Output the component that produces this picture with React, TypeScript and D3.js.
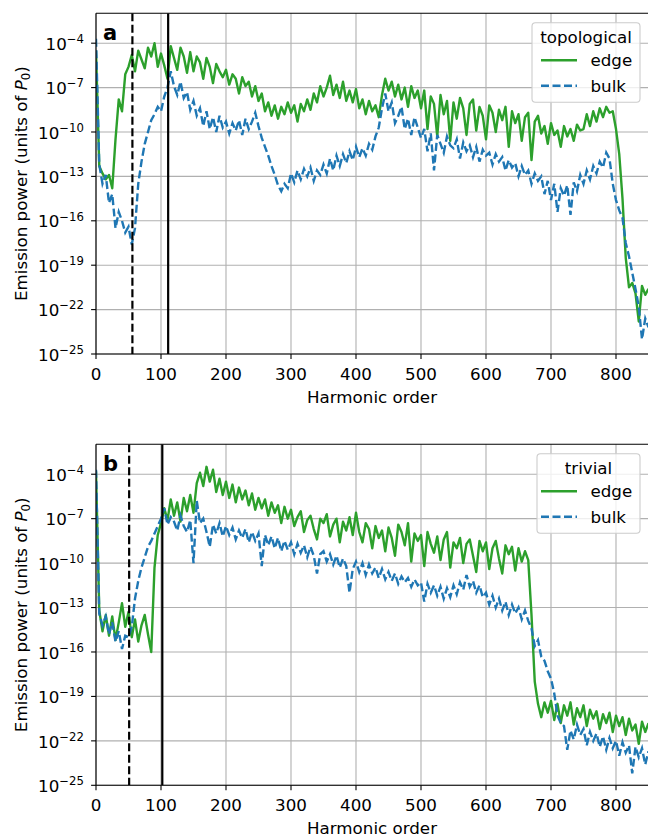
import React from "react";
import * as d3 from "d3";

// Harmonic orders sampled every 5
const harmonics = d3.range(0, 851, 5);

// log10 of emission power (units of P0)
const topoEdge = [
  -4.5, -12.3, -12.8, -13.2, -12.9, -13.8, -10.5, -7.8, -8.6, -6.1,
  -5.6, -4.8, -5.9, -4.5, -5.1, -5.7, -4.3, -4.9, -4.0, -5.6,
  -4.7, -5.5, -6.4, -4.2, -5.0, -5.8, -4.3, -4.9, -6.0, -4.6,
  -5.9, -4.9, -5.3, -6.4, -5.0, -5.6, -6.7, -5.4, -5.9, -6.3,
  -5.8, -6.8, -6.1, -6.4, -7.4, -6.3, -6.9, -6.6, -7.6, -6.9,
  -7.9, -7.4, -8.6, -8.0, -8.9, -8.2, -9.1, -8.3, -8.8, -8.0,
  -8.7, -8.2, -9.3, -8.1, -8.6, -7.8, -8.5, -7.4, -8.0, -6.9,
  -7.6, -7.0, -6.2, -7.5, -6.8, -7.7, -6.6, -7.9, -7.2, -8.0,
  -7.1, -8.4, -7.8, -8.8, -7.9, -8.6, -8.2, -9.0, -7.5, -6.4,
  -7.2, -6.6, -7.6, -6.8, -7.8, -7.0, -8.3, -6.9, -7.7, -7.2,
  -8.4, -7.2, -9.8, -7.6, -8.1, -10.3, -7.5, -8.8, -7.9, -10.6,
  -8.0, -9.1, -7.7, -8.4, -10.2, -8.1, -7.8, -9.9, -8.3, -8.9,
  -10.5, -8.2, -8.7, -10.0, -8.5, -9.2, -8.3, -11.0, -8.6, -9.4,
  -8.8, -10.6, -9.0, -8.7, -11.9, -9.3, -8.9, -10.1, -9.6, -10.8,
  -9.4, -10.2, -9.9, -11.0, -9.6, -10.3, -9.8, -10.6, -9.5, -9.9,
  -9.8, -8.8, -9.6, -8.6, -9.3, -8.4, -9.0, -8.3, -8.7, -8.6,
  -9.8, -11.5, -14.5, -18.5, -20.5, -20.2, -20.9, -22.8, -20.4, -21.0,
  -20.6,
];

const topoBulk = [
  -3.7, -12.2, -13.5, -12.9, -14.8, -14.2, -16.5, -15.4, -16.0, -16.8,
  -16.4, -17.6, -16.5, -13.5, -12.0, -10.8, -10.0, -9.2, -8.8, -8.3,
  -8.6, -7.6, -7.0, -5.9, -6.9, -7.5, -6.6, -7.7, -7.3, -8.5,
  -7.9, -8.9, -8.4, -9.6, -8.6, -9.8, -9.0, -10.0, -8.9, -9.7,
  -9.3, -10.1, -9.4, -9.9, -9.2, -10.2, -9.1, -9.8, -9.3, -8.7,
  -9.6, -10.4, -11.0, -11.6, -12.3, -12.9, -13.6, -14.0, -13.5, -13.8,
  -12.8, -13.4, -12.6, -13.2, -12.5, -13.0, -12.4, -13.3, -12.6, -12.9,
  -12.2, -12.8, -11.8, -12.6, -11.6, -12.3, -11.5, -12.1, -11.3, -11.9,
  -11.0, -11.7, -11.1, -11.6, -10.8, -11.2, -10.3, -9.7, -8.4, -7.4,
  -8.6, -8.0, -9.4, -8.9, -8.3, -9.8, -9.1, -10.2, -9.0, -9.7,
  -10.4, -9.8, -11.3, -10.1, -12.6, -10.2, -10.8, -11.4, -10.3, -10.9,
  -11.1, -10.5, -11.8, -10.7, -11.3, -10.9, -11.7, -11.0, -12.0, -11.2,
  -11.6, -11.4, -12.2, -11.5, -12.0, -11.7, -12.6, -11.9, -12.4, -12.1,
  -13.0, -12.3, -12.9, -12.6, -13.5, -12.8, -13.3, -13.0, -14.2, -13.3,
  -14.6, -13.5, -15.4, -13.8, -14.3, -13.6, -15.6, -13.4, -14.0, -12.9,
  -13.5, -12.6, -13.2, -12.3, -12.8, -12.0, -12.4, -11.4, -11.8, -13.5,
  -14.6, -15.3, -15.8, -17.5, -18.4, -19.5, -20.6, -21.8, -24.0, -22.6,
  -23.2,
];

const trivEdge = [
  -3.8, -13.2, -14.6, -13.5, -14.9, -13.6, -15.2, -14.0, -12.7, -14.3,
  -13.3, -15.0, -13.8, -15.3, -14.2, -13.5, -14.8, -16.0, -10.3, -8.1,
  -7.3, -6.3, -7.1, -5.7, -6.8, -5.9, -7.2, -5.6, -6.5, -5.4,
  -6.6, -4.6, -3.9, -4.8, -3.5, -4.5, -3.7, -5.2, -4.3, -5.4,
  -4.5, -5.6, -4.7, -5.9, -4.9, -5.7, -5.1, -6.1, -5.3, -6.4,
  -5.6, -6.3, -5.7, -6.8, -5.9, -6.6, -6.1, -7.3, -6.2, -7.0,
  -6.4, -7.5, -6.9, -6.5, -7.9, -7.1, -6.8, -7.7, -8.4, -7.0,
  -7.3, -6.7, -8.2, -7.4, -7.0, -8.6, -7.2, -7.8, -6.9, -8.1,
  -6.6, -7.9, -8.6, -7.3, -7.7, -9.0, -7.5, -8.3, -7.8, -9.2,
  -7.6, -8.3, -9.5, -7.4, -7.9, -8.8, -7.3, -9.9, -8.0, -8.5,
  -8.1, -10.2, -7.9, -8.7, -9.3, -8.2, -9.8, -8.4, -7.9, -10.3,
  -8.6, -9.0, -8.3, -10.0, -8.7, -8.4, -9.5, -10.6, -8.5, -9.2,
  -8.6, -10.4, -9.0, -8.5, -9.7, -10.7, -8.8, -9.4, -8.9, -10.5,
  -9.0, -9.9, -9.2, -9.8, -13.5, -18.0, -19.5, -20.4, -19.4, -20.1,
  -19.3, -20.6, -19.5, -20.8, -19.6, -20.3, -19.4, -20.9, -19.8, -20.4,
  -19.6, -21.0, -19.9, -20.5, -20.0, -21.2, -20.2, -20.8, -20.1, -21.4,
  -20.3, -21.0, -20.4, -21.6, -20.5, -21.3, -20.9, -22.2, -20.7, -21.4,
  -20.8,
];

const trivBulk = [
  -3.7, -13.4, -14.2, -13.6, -14.8, -14.0, -15.3, -14.6, -15.8, -14.9,
  -15.0, -14.3, -12.4, -11.2, -10.3, -9.6, -8.9, -8.5, -8.0, -7.5,
  -7.0, -6.3, -7.4, -6.9, -7.2, -7.8, -6.8, -7.5, -7.9, -7.1,
  -10.0, -5.8, -7.3, -7.0, -7.9, -8.9, -7.4, -8.0, -7.3, -8.2,
  -7.5, -8.1, -7.6, -8.4, -7.8, -8.3, -7.7, -8.6, -7.9, -8.5,
  -8.0, -10.2, -8.1, -8.8, -8.2, -9.0, -8.3, -9.2, -8.5, -9.1,
  -8.6, -9.4, -8.7, -9.3, -8.8, -9.6, -8.9, -9.5, -10.7, -9.4,
  -9.2, -9.9, -9.4, -10.1, -9.5, -10.3, -9.7, -10.2, -12.0, -10.4,
  -9.9, -10.6, -10.0, -10.8, -10.1, -10.7, -10.3, -11.0, -10.4, -11.1,
  -10.6, -11.2, -10.7, -11.4, -10.9, -11.3, -11.0, -11.6, -11.1, -11.5,
  -11.3, -12.6, -11.4, -12.0, -11.5, -12.2, -11.6, -12.4, -11.7, -12.3,
  -11.5, -12.1, -11.3, -11.8, -10.8, -11.6, -11.2, -12.0, -11.5, -12.3,
  -12.0, -12.8, -12.2, -13.0, -12.4, -13.2, -12.6, -13.5, -12.8, -13.4,
  -13.0, -13.8, -13.2, -13.9, -14.4, -15.6, -15.2, -16.3, -16.6, -17.3,
  -17.8, -18.8, -20.3, -20.8, -21.0, -22.6, -21.3, -21.9, -20.9, -21.6,
  -21.2, -22.3, -21.4, -22.0, -21.5, -22.4, -21.7, -22.6, -21.8, -22.5,
  -22.0, -23.0, -22.1, -22.8, -22.3, -24.2, -22.4, -23.1, -22.5, -23.6,
  -22.7,
];

// vertical markers (harmonic order): dashed, solid
const topoMarkers = [56, 111];
const trivMarkers = [51, 102];

const xTicks = [0, 100, 200, 300, 400, 500, 600, 700, 800];
const yTickExps = [-25, -22, -19, -16, -13, -10, -7, -4];

const panelLetters = ["a", "b"];
const legendTitles = ["topological", "trivial"];
const seriesNames = ["edge", "bulk"];

const GREEN = "#2ca02c";
const BLUE = "#1f77b4";
const FONT = "DejaVu Sans";
const FS = 16.7;
const LW = 2.4;
const DASH = "8,3.5";

const W = 648;
const H = 837;
const LEFT = 96;
const RIGHT = 648.5;

const x = d3.scaleLinear().domain([0, 850]).range([LEFT, RIGHT]);

function Panel({ top, bottom, idx, edge, bulk, markers }) {
  const y = d3.scaleLog().domain([1e-25, Math.pow(10, -1.98)]).range([bottom, top]);
  const line = d3
    .line<[number, number]>()
    .x((d) => x(d[0]))
    .y((d) => y(Math.pow(10, d[1])));
  const edgePts = harmonics.map((h, i) => [h, edge[i]] as [number, number]);
  const bulkPts = harmonics.map((h, i) => [h, bulk[i]] as [number, number]);
  const clipId = `clip-${idx}`;
  const lx = 640;
  const boxW = idx === 0 ? 108 : 103;
  return (
    <g>
      <defs>
        <clipPath id={clipId}>
          <rect x={LEFT} y={top} width={RIGHT - LEFT} height={bottom - top} />
        </clipPath>
      </defs>
      <g stroke="#b0b0b0" strokeWidth={1.1}>
        {xTicks.map((t) => (
          <line key={"gx" + t} x1={x(t)} x2={x(t)} y1={top} y2={bottom} />
        ))}
        {yTickExps.map((e) => (
          <line key={"gy" + e} x1={LEFT} x2={RIGHT} y1={y(Math.pow(10, e))} y2={y(Math.pow(10, e))} />
        ))}
      </g>
      <g clipPath={`url(#${clipId})`}>
        <path d={line(edgePts) || ""} fill="none" stroke={GREEN} strokeWidth={LW} strokeLinejoin="round" />
        <path d={line(bulkPts) || ""} fill="none" stroke={BLUE} strokeWidth={LW} strokeDasharray={DASH} />
        <line
          x1={x(markers[0])}
          x2={x(markers[0])}
          y1={top}
          y2={bottom}
          stroke="#000"
          strokeWidth={2.2}
          strokeDasharray={DASH}
        />
        <line x1={x(markers[1])} x2={x(markers[1])} y1={top} y2={bottom} stroke="#000" strokeWidth={2.2} />
      </g>
      <g stroke="#000" strokeWidth={1.1} fill="none">
        <line x1={LEFT} x2={LEFT} y1={top} y2={bottom} />
        <line x1={LEFT} x2={RIGHT} y1={bottom} y2={bottom} />
        <line x1={LEFT} x2={RIGHT} y1={top} y2={top} />
      </g>
      {xTicks.map((t) => (
        <g key={"xt" + t}>
          <line x1={x(t)} x2={x(t)} y1={bottom} y2={bottom + 4.9} stroke="#000" strokeWidth={1.1} />
          <text x={x(t)} y={bottom + 26} textAnchor="middle" fontFamily={FONT} fontSize={FS}>
            {t}
          </text>
        </g>
      ))}
      {yTickExps.map((e) => {
        const yy = y(Math.pow(10, e));
        return (
          <g key={"yt" + e}>
            <line x1={LEFT - 4.9} x2={LEFT} y1={yy} y2={yy} stroke="#000" strokeWidth={1.1} />
            <text x={84} y={yy + 6.7} textAnchor="end" fontFamily={FONT} fontSize={FS}>
              <tspan>10</tspan>
              <tspan dy={-6.9} fontSize={11.7}>
                {"\u2212" + Math.abs(e)}
              </tspan>
            </text>
          </g>
        );
      })}
      <text x={372} y={bottom + 49} textAnchor="middle" fontFamily={FONT} fontSize={FS}>
        Harmonic order
      </text>
      <text
        transform={`translate(27,${(top + bottom) / 2}) rotate(-90)`}
        textAnchor="middle"
        fontFamily={FONT}
        fontSize={FS}
      >
        Emission power (units of <tspan fontStyle="italic">P</tspan>
        <tspan fontSize={11.7} dy={3}>
          0
        </tspan>
        <tspan dy={-3}>)</tspan>
      </text>
      <text x={103} y={top + 27} fontFamily={FONT} fontSize={21} fontWeight="bold">
        {panelLetters[idx]}
      </text>
      <g>
        <rect
          x={lx - boxW}
          y={top + 9.5}
          width={boxW}
          height={79.5}
          rx={3.5}
          fill="#fff"
          fillOpacity={0.8}
          stroke="#cccccc"
          strokeWidth={1.1}
        />
        <text x={lx - boxW / 2} y={top + 30} textAnchor="middle" fontFamily={FONT} fontSize={FS}>
          {legendTitles[idx]}
        </text>
        <line x1={lx - 99} x2={lx - 63} y1={top + 47} y2={top + 47} stroke={GREEN} strokeWidth={LW} />
        <text x={lx - 49.5} y={top + 53} fontFamily={FONT} fontSize={FS}>
          {seriesNames[0]}
        </text>
        <line
          x1={lx - 99}
          x2={lx - 63}
          y1={top + 72.5}
          y2={top + 72.5}
          stroke={BLUE}
          strokeWidth={LW}
          strokeDasharray={DASH}
        />
        <text x={lx - 49.5} y={top + 78.5} fontFamily={FONT} fontSize={FS}>
          {seriesNames[1]}
        </text>
      </g>
    </g>
  );
}

export default function App() {
  return (
    <svg
      width={W}
      height={H}
      viewBox={`0 0 ${W} ${H}`}
      style={{ position: "absolute", left: 0, top: 0, background: "#fff" }}
    >
      <rect x={0} y={0} width={W} height={H} fill="#fff" />
      <Panel top={13.3} bottom={354} idx={0} edge={topoEdge} bulk={topoBulk} markers={topoMarkers} />
      <Panel top={444.3} bottom={785.3} idx={1} edge={trivEdge} bulk={trivBulk} markers={trivMarkers} />
    </svg>
  );
}
